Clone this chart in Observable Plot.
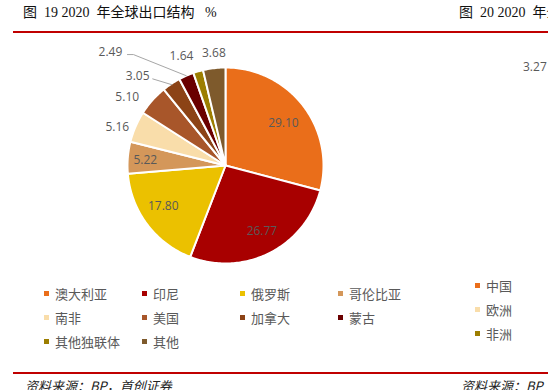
<!DOCTYPE html>
<html>
<head>
<meta charset="utf-8">
<script src="https://cdn.jsdelivr.net/npm/d3@7"></script>
<script src="https://cdn.jsdelivr.net/npm/@observablehq/plot@0.6"></script>
<style>
  html, body { margin: 0; padding: 0; background: #fff; }
  #page { position: relative; width: 548px; height: 390px; overflow: hidden; background: #fff; }
  #chart { position: absolute; left: 0; top: 0; }
  .abs { position: absolute; white-space: pre; }
  .title { font-family: "Liberation Serif", "Noto Sans CJK SC", serif; font-size: 14px; line-height: 14px; color: #111; }
  .rule { position: absolute; height: 1.5px; background: #C00000; }
  .leg { position: absolute; font-family: "Noto Sans CJK SC", sans-serif; font-size: 13px; line-height: 13px; color: #595959; white-space: nowrap; }
  .leg i { position: absolute; width: 5px; height: 5px; left: -11px; top: 4px; }
  .src { font-family: "Noto Sans CJK SC", sans-serif; font-style: italic; font-size: 13px; line-height: 13px; color: #222; }
  .num { font-family: "Open Sans", sans-serif; font-size: 12px; line-height: 12px; color: #595959; }
</style>
</head>
<body>
<div id="page">
  <div id="chart"></div>
</div>
<script>
// ---- data ----
const names = ["澳大利亚", "印尼", "俄罗斯", "哥伦比亚", "南非", "美国", "加拿大", "蒙古", "其他独联体", "其他"];
const values = [29.10, 26.77, 17.80, 5.22, 5.16, 5.10, 3.05, 2.49, 1.64, 3.68];
const colors = ["#EA6E1A", "#A80000", "#EBC100", "#D4975A", "#F9DDAA", "#A8562A", "#8C4316", "#6A0000", "#9C7E00", "#7E5A2C"];

// right (partially visible) chart
const rightNames = ["中国", "欧洲", "非洲"];
const rightColors = ["#EA6E1A", "#F9DDAA", "#9C7E00"];
const rightLabel = "3.27";

// ---- label layout (polar: angle shift in degrees, radius as fraction of pie radius) ----
const labelShift = [1.7, -2, 3.5, -1, -3.9, -7, -10.8, -21.9, -5.7, 0.7];
const labelRadius = [0.73, 0.765, 0.76, 0.82, 1.17, 1.22, 1.28, 1.645, 1.204, 1.149];
const R = 98; // px per data unit

const arcs = d3.pie().sort(null).value(d => d)(values);

const polys = [];
arcs.forEach((a, i) => {
  polys.push({name: names[i], x: 0, y: 0});
  const n = Math.max(2, Math.ceil((a.endAngle - a.startAngle) / (Math.PI / 180)));
  for (let k = 0; k <= n; k++) {
    const t = a.startAngle + (a.endAngle - a.startAngle) * k / n;
    polys.push({name: names[i], x: Math.sin(t), y: Math.cos(t)});
  }
  polys.push({name: names[i], x: 0, y: 0});
});

const labels = arcs.map((a, i) => {
  const mid = (a.startAngle + a.endAngle) / 2 + labelShift[i] * Math.PI / 180;
  return {text: values[i].toFixed(2), x: labelRadius[i] * Math.sin(mid), y: labelRadius[i] * Math.cos(mid), i};
});

// leader lines for 2.49 (蒙古) and 3.05 (加拿大)
function edge(i) {
  const a = arcs[i];
  const mid = (a.startAngle + a.endAngle) / 2;
  return {x: Math.sin(mid), y: Math.cos(mid)};
}
const leaders = [];
{
  const L = labels[7], e = edge(7);
  leaders.push({id: "m", x: L.x + 17 / R, y: L.y - 2 / R});
  leaders.push({id: "m", x: L.x + 23 / R, y: L.y - 2 / R});
  leaders.push({id: "m", x: e.x, y: e.y});
  const C = labels[6], f = edge(6);
  leaders.push({id: "c", x: C.x + 15 / R, y: C.y - 3 / R});
  leaders.push({id: "c", x: f.x * 0.99, y: f.y * 0.99});
}

const plot = Plot.plot({
  width: 548,
  height: 390,
  margin: 0,
  style: {background: "transparent"},
  x: {domain: [-1, 1], range: [225 - R, 225 + R], axis: null},
  y: {domain: [-1, 1], range: [165 + R, 165 - R], axis: null},
  color: {domain: names, range: colors},
  marks: [
    Plot.line(polys, {x: "x", y: "y", z: "name", fill: "name", stroke: "white", strokeWidth: 2, curve: "linear"}),
    Plot.line(leaders, {x: "x", y: "y", z: "id", stroke: "#A6A6A6", strokeWidth: 1}),
    Plot.text(labels, {x: "x", y: "y", text: "text", fill: "#595959", fontSize: 12, fontFamily: "Open Sans"})
  ]
});
document.getElementById("chart").appendChild(plot);

// ---- surrounding text ----
const page = document.getElementById("page");
function add(cls, text, left, top, extra) {
  const d = document.createElement("div");
  d.className = cls;
  d.textContent = text;
  d.style.left = left + "px";
  d.style.top = top + "px";
  if (extra) Object.assign(d.style, extra);
  page.appendChild(d);
  return d;
}
function rule(left, top, width) {
  const d = document.createElement("div");
  d.className = "rule";
  d.style.left = left + "px"; d.style.top = top + "px"; d.style.width = width + "px";
  page.appendChild(d);
}

add("abs title", "图  19 2020  年全球出口结构   %", 23, 6);
add("abs title", "图  20 2020  年全球", 459, 6);
rule(13, 31, 535);
rule(13, 372, 535);
add("abs src", "资料来源：BP，首创证券", 25, 379);
add("abs src", "资料来源：BP", 461, 379);
add("abs num", rightLabel, 523, 61);

// legend
const colX = [55, 153, 251, 349];
const rowY = [287, 311, 335];
names.forEach((n, i) => {
  const d = add("leg", n, colX[i % 4], rowY[Math.floor(i / 4)]);
  const m = document.createElement("i");
  m.style.background = colors[i];
  d.appendChild(m);
});
const rRowY = [279, 303, 327];
rightNames.forEach((n, i) => {
  const d = add("leg", n, 486, rRowY[i]);
  const m = document.createElement("i");
  m.style.background = rightColors[i];
  d.appendChild(m);
});
</script>
</body>
</html>
